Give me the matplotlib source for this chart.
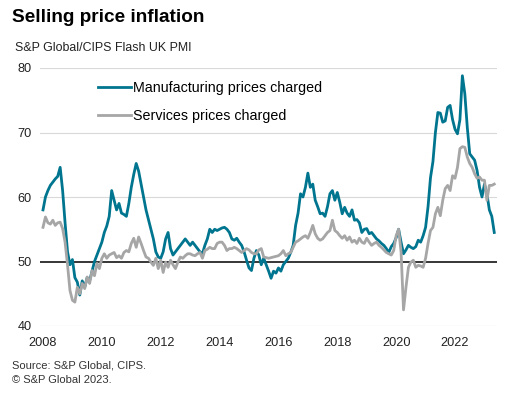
import numpy as np
import matplotlib
matplotlib.use("Agg")
import matplotlib.pyplot as plt

plt.rcParams['font.family'] = ['Liberation Sans', 'DejaVu Sans']

# monthly readings, Jan 2008 .. May 2023
manufacturing = [
    58.0, 60.0, 61.0, 61.8, 62.3, 62.8, 63.2, 64.6, 61.0, 56.0, 51.5, 49.5,   # 2008
    50.3, 47.5, 46.8, 44.8, 47.0, 46.0, 47.5, 47.0, 48.5, 50.0, 51.0, 52.0,   # 2009
    53.0, 54.5, 55.5, 57.0, 61.0, 59.5, 58.0, 59.0, 57.5, 57.3, 57.0, 59.0,   # 2010
    61.5, 63.5, 65.2, 64.0, 62.0, 60.0, 58.0, 56.5, 55.0, 53.5, 51.5, 50.7,   # 2011
    50.5, 51.5, 53.5, 54.5, 52.0, 51.0, 51.5, 52.0, 52.5, 53.0, 53.5, 53.0,   # 2012
    52.5, 53.0, 52.5, 52.0, 51.5, 51.2, 52.5, 53.5, 55.0, 54.5, 55.0, 54.8,   # 2013
    55.0, 55.2, 55.3, 55.0, 54.5, 53.5, 53.3, 53.6, 53.0, 52.5, 51.5, 50.2,   # 2014
    49.0, 48.6, 50.5, 51.7, 51.0, 49.5, 50.5, 49.5, 48.5, 47.4, 48.5, 48.2,   # 2015
    49.0, 48.5, 49.5, 50.0, 50.5, 51.4, 52.5, 55.6, 57.5, 60.5, 60.0, 61.5,   # 2016
    63.7, 61.5, 62.0, 59.5, 58.5, 57.4, 57.5, 57.0, 58.5, 60.5, 61.0, 59.5,   # 2017
    60.7, 59.2, 57.4, 58.4, 57.5, 57.0, 58.0, 56.4, 56.5, 56.0, 54.5, 55.0,   # 2018
    55.1, 54.3, 54.5, 54.0, 53.5, 53.2, 52.8, 52.5, 52.0, 51.4, 52.3, 52.8,   # 2019
    53.7, 55.0, 53.0, 51.2, 51.8, 52.5, 52.2, 52.0, 52.3, 53.3, 53.0, 54.0,   # 2020
    55.3, 58.5, 63.0, 65.5, 70.0, 73.1, 73.0, 71.6, 71.8, 73.9, 74.2, 72.0,   # 2021
    70.5, 69.8, 72.0, 78.8, 76.0, 70.8, 66.7, 66.2, 65.7, 64.1, 61.5, 60.0,   # 2022
    62.0, 60.5, 58.0, 57.0, 54.5,                                             # 2023
]
services = [
    55.3, 56.9, 56.0, 55.8, 56.4, 55.6, 56.0, 56.1, 55.1, 53.0, 49.5, 45.5,   # 2008
    44.0, 43.7, 46.0, 45.0, 46.6, 45.8, 47.6, 46.6, 48.6, 47.8, 49.7, 48.9,   # 2009
    50.5, 51.2, 50.5, 51.0, 51.2, 51.4, 50.6, 50.9, 50.5, 51.4, 51.7, 51.5,   # 2010
    52.8, 53.6, 52.2, 53.8, 52.8, 51.7, 50.7, 50.5, 49.9, 49.4, 50.5, 48.9,   # 2011
    50.2, 48.3, 49.9, 49.1, 50.2, 49.5, 48.9, 49.9, 50.7, 50.5, 50.9, 51.2,   # 2012
    51.2, 51.0, 50.9, 51.2, 51.4, 50.5, 51.7, 51.9, 52.2, 52.0, 52.0, 52.8,   # 2013
    53.0, 53.0, 52.5, 51.7, 52.0, 52.0, 52.2, 52.0, 51.7, 51.4, 51.7, 52.0,   # 2014
    51.8, 51.4, 51.2, 51.2, 51.8, 52.0, 50.7, 50.6, 50.5, 50.6, 50.7, 50.8,   # 2015
    50.9, 51.2, 51.7, 50.9, 51.2, 51.4, 52.2, 53.0, 53.2, 53.5, 53.8, 54.0,   # 2016
    53.6, 54.5, 55.6, 54.3, 53.6, 53.3, 53.5, 54.0, 54.5, 54.8, 56.4, 54.8,   # 2017
    54.5, 54.0, 53.6, 54.0, 53.3, 53.8, 53.0, 53.3, 52.8, 53.6, 53.0, 52.8,   # 2018
    53.6, 53.0, 52.5, 52.8, 53.0, 52.5, 52.2, 51.8, 51.4, 51.2, 51.0, 51.7,   # 2019
    54.0, 55.0, 51.5, 42.5, 46.0, 49.1, 49.9, 50.2, 49.1, 49.4, 49.3, 49.1,   # 2020
    50.5, 52.8, 54.8, 55.3, 57.4, 58.4, 57.1, 59.5, 61.3, 61.8, 61.0, 63.3,   # 2021
    62.9, 64.6, 67.5, 67.8, 67.7, 66.2, 65.2, 64.6, 63.6, 62.9, 63.1, 62.6,   # 2022
    62.6, 59.5, 61.8, 61.8, 62.0,                                             # 2023
]
year_ticks = [2008, 2010, 2012, 2014, 2016, 2018, 2020, 2022]
y_ticks = [40, 50, 60, 70, 80]

t = 2008 + np.arange(len(manufacturing)) / 12

fig = plt.figure(figsize=(5.22, 4.0), dpi=100)
ax = fig.add_axes([40/522, 74/400, 457/522, 258/400])

for v in y_ticks:
    if v != 50:
        ax.axhline(v, color='#d9d9d9', lw=0.8, zorder=0)
ax.axhline(50, color='black', lw=1.1, zorder=1)

ax.plot(t, manufacturing, color='#00758f', lw=2.0, label='Manufacturing prices charged', zorder=3)
ax.plot(t, services, color='#a6a6a6', lw=2.0, label='Services prices charged', zorder=4)

ax.set_xlim(2008 - 3/29.43, 2008 + 454/29.43)
ax.set_ylim(40, 80)
ax.set_xticks(year_ticks)
ax.set_yticks(y_ticks)
ax.tick_params(length=0, labelsize=9.2, colors='#222222')
ax.tick_params(axis='x', pad=8)
ax.tick_params(axis='y', pad=6)
for s in ax.spines.values():
    s.set_visible(False)

ax.legend(loc='upper left', bbox_to_anchor=(0.098, 1.0), frameon=False,
          fontsize=10.3, handlelength=2.3, handletextpad=0.15, labelspacing=1.0)

fig.text(12/522, 1 - 18/400, 'Selling price inflation', fontsize=13.7, fontweight='bold', va='center')
fig.text(15/522, 1 - 48/400, 'S&P Global/CIPS Flash UK PMI', fontsize=8.9, va='center', color='#222222')
fig.text(12/522, 1 - 366/400, 'Source: S&P Global, CIPS.', fontsize=8.0, va='center', color='#333333')
fig.text(12/522, 1 - 380/400, '\u00a9 S&P Global 2023.', fontsize=8.0, va='center', color='#333333')

fig.savefig('out.png', dpi=100)
